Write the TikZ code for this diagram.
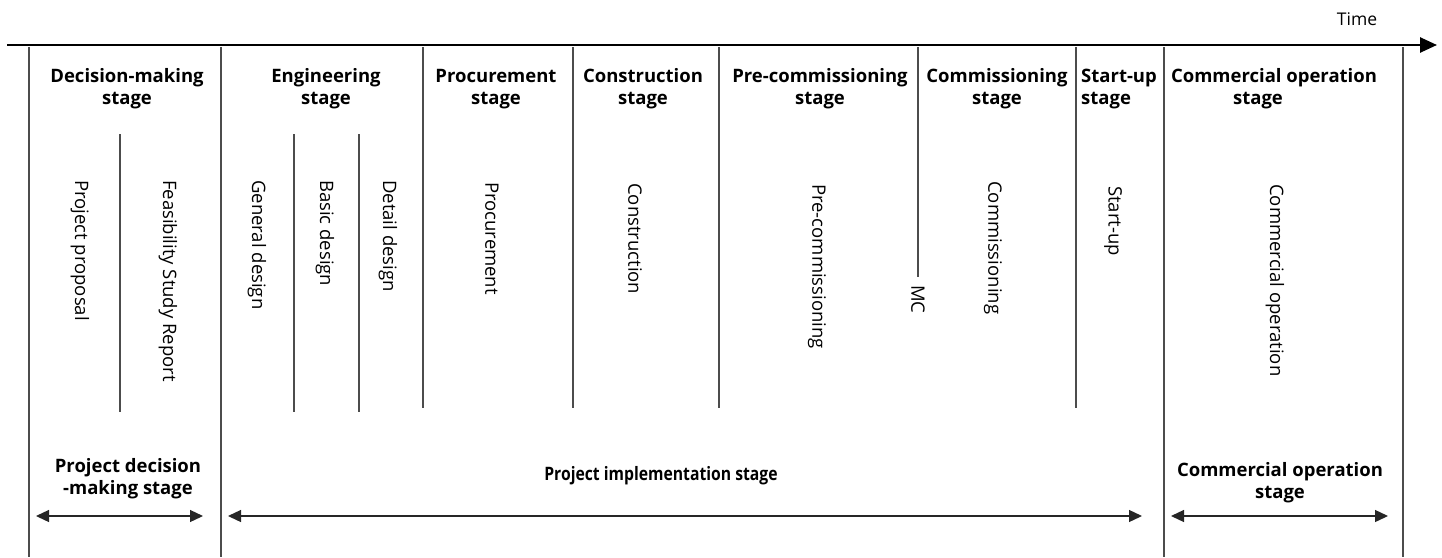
\documentclass[tikz,border=0pt]{standalone}
\usepackage{fontspec}
\setmainfont{Open Sans}
\usetikzlibrary{arrows.meta}
\begin{document}
\begin{tikzpicture}[x=1pt,y=-1pt,
  vline/.style={draw=black!70, line width=1.3pt},
  axisline/.style={draw=black, line width=2.6pt, -{Triangle[length=17pt,width=15pt]}},
  head/.style={font=\fontsize{18.5}{22}\selectfont\bfseries, align=center, inner sep=0pt},
  vtext/.style={font=\fontsize{18.5}{20}\selectfont, rotate=-90, anchor=west, inner sep=0pt},
  plain/.style={font=\fontsize{17.5}{20}\selectfont, inner sep=0pt},
  dbl/.style={{Triangle[length=13pt,width=12pt]}-{Triangle[length=13pt,width=12pt]}, line width=1.3pt, draw=black!85}
]
\useasboundingbox (0,0) rectangle (1442,557);
% time axis
\coordinate (t0) at (7,45);
\coordinate (t1) at (1437,45);
\draw[axisline] (t0) -- (t1);
\node[plain] (time) at (1357,19) {Time};
% full-height lines
\foreach \n/\x in {a/29,b/221,c/1164,d/1403}{
  \coordinate (\n top) at (\x,47);
  \coordinate (\n bot) at (\x,557);
  \draw[vline] (\n top) -- (\n bot);
}
% partial stage lines
\foreach \n/\x in {e/423,f/573,g/719,h/1076}{
  \coordinate (\n top) at (\x,47);
  \coordinate (\n bot) at (\x,408);
  \draw[vline] (\n top) -- (\n bot);
}
% MC line
\coordinate (mctop) at (918,47);
\coordinate (mcbot) at (918,277);
\draw[vline] (mctop) -- (mcbot);
% sub lines
\foreach \n/\x in {s1/120,s2/294,s3/359}{
  \coordinate (\n top) at (\x,134);
  \coordinate (\n bot) at (\x,412);
  \draw[vline] (\n top) -- (\n bot);
}
% headers
\node[head] (h1) at (127,89) {Decision-making\\stage};
\node[head] (h2) at (326,89) {Engineering\\stage};
\node[head] (h3) at (496,89) {Procurement\\stage};
\node[head] (h4) at (643,89) {Construction\\stage};
\node[head] (h5) at (820,89) {Pre-commissioning\\stage};
\node[head] (h6) at (997,89) {Commissioning\\stage};
\node[head, align=left, anchor=west] (h7) at (1081,89) {Start-up\\stage};
\node[head] (h8) at (1274,89) {Commercial operation\\\hspace*{-32pt}stage};
% vertical texts
\node[vtext] (v1) at (80,180) {Project proposal};
\node[vtext] (v2) at (168,180) {Feasibility Study Report};
\node[vtext] (v3) at (257,180) {General design};
\node[vtext] (v4) at (325,180) {Basic design};
\node[vtext] (v5) at (388,180) {Detail design};
\node[vtext] (v6) at (492,182) {Procurement};
\node[vtext] (v7) at (635,183) {Construction};
\node[vtext] (v8) at (817,184) {Pre-commissioning};
\node[vtext] (v9) at (918,285) {MC};
\node[vtext] (v10) at (993,181) {Commissioning};
\node[vtext] (v11) at (1113,186) {Start-up};
\node[vtext] (v12) at (1275,184) {Commercial operation};
% bottom labels
\node[head] (b1) at (128,479) {Project decision\\-making stage};
\node[head] (b2) at (661,476) {\scalebox{0.85}[1]{Project implementation stage}};
\node[head] (b3) at (1280,483) {Commercial operation\\stage};
% bottom arrows
\coordinate (a1l) at (36,516);  \coordinate (a1r) at (203,516);
\coordinate (a2l) at (228,516); \coordinate (a2r) at (1142,516);
\coordinate (a3l) at (1171,516); \coordinate (a3r) at (1388,516);
\draw[dbl] (a1l) -- (a1r);
\draw[dbl] (a2l) -- (a2r);
\draw[dbl] (a3l) -- (a3r);
\end{tikzpicture}
\end{document}
